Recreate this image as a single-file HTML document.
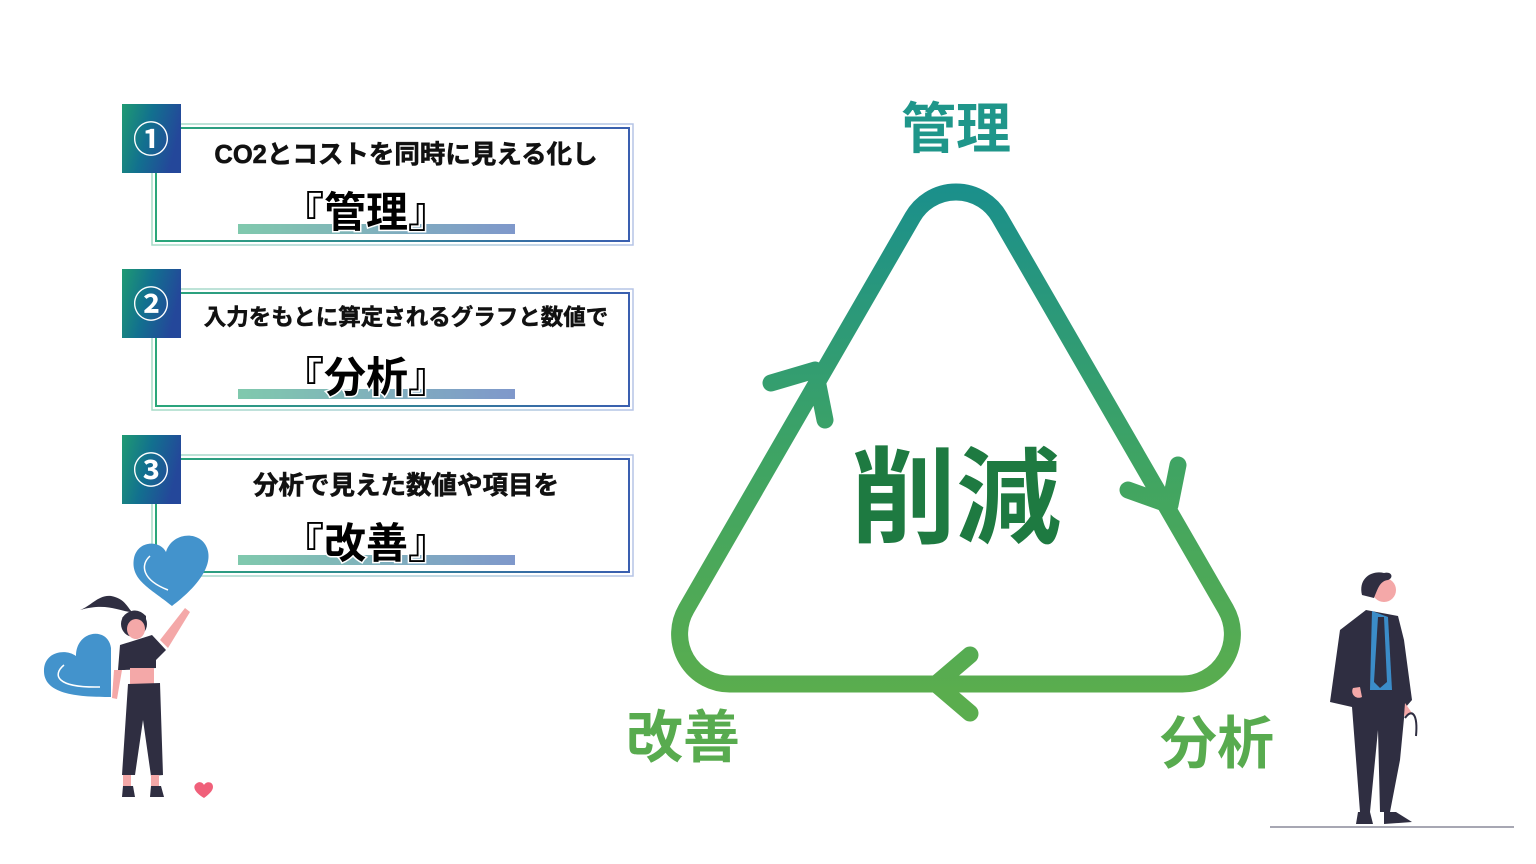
<!DOCTYPE html>
<html><head><meta charset="utf-8"><style>
html,body{margin:0;padding:0;background:#fff;}
svg{display:block;}
text{font-family:"Liberation Sans","Noto Sans CJK JP",sans-serif;font-weight:bold;}
</style></head><body>
<svg width="1536" height="864" viewBox="0 0 1536 864" xmlns="http://www.w3.org/2000/svg">
<defs>
<linearGradient id="tri" gradientUnits="userSpaceOnUse" x1="0" y1="183" x2="0" y2="692">
<stop offset="0" stop-color="#1a8f8c"/><stop offset="0.55" stop-color="#3fa463"/><stop offset="1" stop-color="#5aad4e"/></linearGradient>
<linearGradient id="badge" x1="0" y1="0" x2="1" y2="0.3">
<stop offset="0" stop-color="#1f9a72"/><stop offset="0.5" stop-color="#12708f"/><stop offset="1" stop-color="#24479a"/></linearGradient>
<linearGradient id="frame" x1="0" y1="0" x2="1" y2="0">
<stop offset="0" stop-color="#2aa77a"/><stop offset="1" stop-color="#3a5fb0"/></linearGradient>
<linearGradient id="frameL" x1="0" y1="0" x2="1" y2="0">
<stop offset="0" stop-color="#a6dcc7"/><stop offset="1" stop-color="#b5c4e6"/></linearGradient>
<linearGradient id="bar" x1="0" y1="0" x2="1" y2="0">
<stop offset="0" stop-color="#80c9ad"/><stop offset="1" stop-color="#7f98cb"/></linearGradient>
</defs>

<g>
<rect x="152" y="124" width="481" height="121" fill="none" stroke="url(#frameL)" stroke-width="1.5"/>
<rect x="156" y="128" width="473" height="113" fill="none" stroke="url(#frame)" stroke-width="2"/>
<rect x="122" y="104" width="59" height="69" fill="url(#badge)"/>
<text x="151" y="152" font-size="36" fill="#fff" text-anchor="middle">①</text>
<text x="406" y="163" font-size="25.5" fill="#111" stroke="#111" stroke-width="0.6" text-anchor="middle">CO2とコストを同時に見える化し</text>
<rect x="238" y="224" width="277" height="10" fill="url(#bar)"/>
<text x="366" y="227" font-size="42" fill="#000" stroke="#fff" stroke-width="3" paint-order="stroke" text-anchor="middle">『管理』</text>
</g>
<g>
<rect x="152" y="289" width="481" height="121" fill="none" stroke="url(#frameL)" stroke-width="1.5"/>
<rect x="156" y="293" width="473" height="113" fill="none" stroke="url(#frame)" stroke-width="2"/>
<rect x="122" y="269" width="59" height="69" fill="url(#badge)"/>
<text x="151" y="317" font-size="36" fill="#fff" text-anchor="middle">②</text>
<text x="406" y="325" font-size="22.5" fill="#111" stroke="#111" stroke-width="0.5" text-anchor="middle">入力をもとに算定されるグラフと数値で</text>
<rect x="238" y="389" width="277" height="10" fill="url(#bar)"/>
<text x="366" y="392" font-size="42" fill="#000" stroke="#fff" stroke-width="3" paint-order="stroke" text-anchor="middle">『分析』</text>
</g>
<g>
<rect x="152" y="455" width="481" height="121" fill="none" stroke="url(#frameL)" stroke-width="1.5"/>
<rect x="156" y="459" width="473" height="113" fill="none" stroke="url(#frame)" stroke-width="2"/>
<rect x="122" y="435" width="59" height="69" fill="url(#badge)"/>
<text x="151" y="483" font-size="36" fill="#fff" text-anchor="middle">③</text>
<text x="406" y="494" font-size="25.5" fill="#111" stroke="#111" stroke-width="0.6" text-anchor="middle">分析で見えた数値や項目を</text>
<rect x="238" y="555" width="277" height="10" fill="url(#bar)"/>
<text x="366" y="558" font-size="42" fill="#000" stroke="#fff" stroke-width="3" paint-order="stroke" text-anchor="middle">『改善』</text>
</g>

<g fill="none" stroke="url(#tri)" stroke-width="17" stroke-linecap="round" stroke-linejoin="round">
<path d="M912.7,217 L686.3,609 A50,50 0 0 0 729.6,684 L1182.4,684 A50,50 0 0 0 1225.7,609 L999.3,217 A50,50 0 0 0 912.7,217 Z"/>
<path d="M771,383 L815,370 L825,420"/>
<path d="M1128,490 L1170,505 L1178,465"/>
<path d="M970,655 L936,684 L970,713"/>
</g>
<text x="956" y="148" font-size="55" fill="#1f968a" text-anchor="middle">管理</text>
<text x="683" y="757" font-size="57" fill="#58ab4f" text-anchor="middle">改善</text>
<text x="1217" y="763" font-size="57" fill="#58ab4f" text-anchor="middle">分析</text>
<text x="956" y="535" font-size="105" fill="#1e7a41" text-anchor="middle">削減</text>

<g>
<path d="M172,606 C150,588 130,580 134,558 C138,540 160,540 166,552 C172,532 200,530 207,548 C214,566 196,588 172,606 Z" fill="#4393cc"/>
<path d="M150,556 C140,565 142,580 168,590" fill="none" stroke="#fff" stroke-width="1.5"/>
<path d="M111,697 C80,697 45,695 44,672 C43,652 65,648 76,656 C76,630 108,626 111,648 Z" fill="#4393cc"/>
<path d="M64,665 C52,675 56,688 100,687" fill="none" stroke="#fff" stroke-width="1.5"/>
<path d="M80,610 C92,606 100,592 115,597 C125,600 128,608 132,612 C120,612 108,602 80,610 Z" fill="#2f2e41"/>
<circle cx="134" cy="624" r="13" fill="#2f2e41"/>
<ellipse cx="136" cy="629" rx="9" ry="10" fill="#f4a8a8"/>
<path d="M124,620 Q134,608 146,622 L146,616 Q134,604 122,618 Z" fill="#2f2e41"/>
<path d="M160,640 L185,608 L190,612 L168,648 Z" fill="#f4a8a8"/>
<path d="M114,670 L112,698 L117,699 L122,670 Z" fill="#f4a8a8"/>
<path d="M120,645 L152,635 L166,650 L156,660 L156,668 L124,670 L118,670 Z" fill="#2f2e41"/>
<rect x="130" y="668" width="24" height="16" fill="#f4a8a8"/>
<path d="M128,684 L160,683 L163,775 L151,776 L143,720 L135,775 L122,775 Z" fill="#2f2e41"/>
<rect x="123" y="775" width="8" height="12" fill="#f4a8a8"/>
<rect x="151" y="775" width="8" height="12" fill="#f4a8a8"/>
<path d="M123,786 L133,786 L135,797 L122,797 Z" fill="#2f2e41"/>
<path d="M151,786 L161,786 L164,797 L150,797 Z" fill="#2f2e41"/>
<path d="M204,798 C194,792 192,786 197,783 C200,781 203,783 204,785 C206,781 213,781 213,787 C213,791 208,795 204,798 Z" fill="#f0607a"/>
</g>

<g>
<line x1="1270" y1="827" x2="1514" y2="827" stroke="#8a8a9a" stroke-width="1.5"/>
<circle cx="1384" cy="590" r="12" fill="#f4a8a8"/>
<path d="M1362,595 C1358,578 1372,570 1384,573 C1392,571 1394,578 1388,580 C1380,581 1378,588 1374,598 Z" fill="#2f2e41"/>
<path d="M1366,610 L1398,616 L1404,640 L1412,700 L1405,708 L1400,760 L1390,812 L1380,812 L1378,730 L1370,812 L1360,812 L1352,707 L1330,702 L1340,630 Z" fill="#2f2e41"/>
<path d="M1372,611 L1388,617 L1392,690 L1370,690 Z" fill="#3b8cc8"/>
<path d="M1378,617 L1384,617 L1387,682 L1380,688 L1374,682 Z" fill="#2f2e41"/>
<path d="M1353,688 C1350,694 1356,700 1362,697 L1360,687 Z" fill="#f4a8a8"/>
<path d="M1405,703 L1412,713 L1404,716 Z" fill="#f4a8a8"/>
<path d="M1405,718 C1412,708 1418,714 1416,736" fill="none" stroke="#2f2e41" stroke-width="2"/>
<path d="M1358,812 L1370,812 L1373,824 L1356,824 Z" fill="#2f2e41"/>
<path d="M1384,812 L1396,812 L1412,822 L1384,824 Z" fill="#2f2e41"/>
</g>
</svg>
</body></html>
